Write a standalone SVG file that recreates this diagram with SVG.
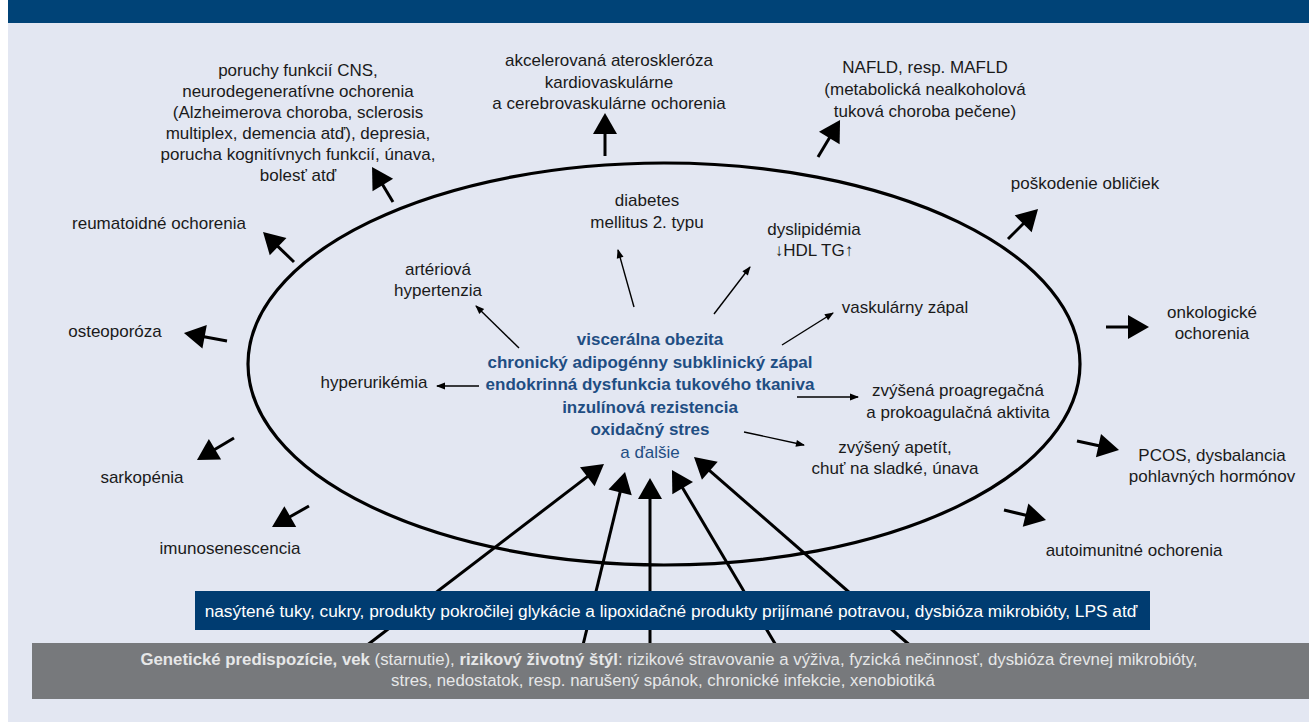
<svg xmlns="http://www.w3.org/2000/svg" width="1309" height="722" viewBox="0 0 1309 722">
<style>
text{font-family:"Liberation Sans",Arial,sans-serif;font-size:17px;fill:#1a1a1a;text-anchor:middle}
.c{fill:#1f4e83;font-weight:bold}
.cr{fill:#1f4e83}
.w{fill:#ffffff;font-size:17.3px}
.g{fill:#e6e7e8;font-size:16.8px}
.b{font-weight:bold}
.thick{stroke:#000;stroke-width:3;fill:none;marker-end:url(#hb)}
.thin{stroke:#000;stroke-width:1.4;fill:none;marker-end:url(#hs)}
</style>
<defs>
<marker id="hb" markerUnits="userSpaceOnUse" markerWidth="24" markerHeight="26" refX="17" refY="12" orient="auto" overflow="visible">
<path d="M0,0 L21,12 L0,24 z" fill="#000"/>
</marker>
<marker id="hs" markerUnits="userSpaceOnUse" markerWidth="10" markerHeight="8" refX="8" refY="3.5" orient="auto" overflow="visible">
<path d="M0,0 L9,3.5 L0,7 z" fill="#000"/>
</marker>
</defs>
<rect x="0" y="0" width="1309" height="722" fill="#ffffff"/>
<rect x="8" y="0" width="1301" height="722" fill="#e3e7f2"/>
<rect x="8" y="0" width="1301" height="23" fill="#004377"/>
<ellipse cx="664" cy="364" rx="416" ry="201" fill="none" stroke="#000" stroke-width="3.2"/>
<g id="connectors">
<line class="thick" x1="393" y1="202" x2="374.1" y2="170.4"/>
<line class="thick" x1="294" y1="262" x2="265.9" y2="234.8"/>
<line class="thick" x1="605" y1="156" x2="605" y2="117"/>
<line class="thick" x1="818" y1="157" x2="838" y2="123.4"/>
<line class="thick" x1="1008" y1="239" x2="1035.2" y2="211.8"/>
<line class="thick" x1="1106" y1="327" x2="1145" y2="327"/>
<line class="thick" x1="1077" y1="441" x2="1115.1" y2="449.2"/>
<line class="thick" x1="1004" y1="510" x2="1042.1" y2="519.1"/>
<line class="thick" x1="227" y1="341" x2="187.9" y2="333.7"/>
<line class="thick" x1="234" y1="438" x2="200.4" y2="458"/>
<line class="thick" x1="309" y1="506" x2="275.5" y2="525"/>
<line class="thick" x1="366" y1="646" x2="600.8" y2="466.4"/>
<line class="thick" x1="583" y1="645" x2="624.1" y2="475.9"/>
<line class="thick" x1="650" y1="645" x2="650" y2="482"/>
<line class="thick" x1="777" y1="647" x2="674" y2="473.4"/>
<line class="thick" x1="913" y1="648" x2="697" y2="459.6"/>
<line class="thin" x1="519" y1="348" x2="476" y2="306"/>
<line class="thin" x1="634" y1="307" x2="618" y2="250"/>
<line class="thin" x1="714" y1="314" x2="750" y2="267"/>
<line class="thin" x1="782" y1="345" x2="833" y2="313"/>
<line class="thin" x1="479" y1="386" x2="437" y2="386"/>
<line class="thin" x1="797" y1="397" x2="858" y2="397"/>
<line class="thin" x1="744" y1="432" x2="804" y2="445"/>
</g>
<g id="center">
<text x="650" y="345" class="c">viscerálna obezita</text>
<text x="650" y="368" class="c">chronický adipogénny subklinický zápal</text>
<text x="650" y="390" class="c">endokrinná dysfunkcia tukového tkaniva</text>
<text x="650" y="413" class="c">inzulínová rezistencia</text>
<text x="650" y="435" class="c">oxidačný stres</text>
<text x="650" y="458" class="cr">a ďalšie</text>
</g>
<g id="cns">
<text x="298" y="76">poruchy funkcií CNS,</text>
<text x="298" y="97">neurodegeneratívne ochorenia</text>
<text x="298" y="118">(Alzheimerova choroba, sclerosis</text>
<text x="298" y="139">multiplex, demencia atď), depresia,</text>
<text x="298" y="160">porucha kognitívnych funkcií, únava,</text>
<text x="298" y="181">bolesť atď</text>
</g>
<g id="reumatoidne"><text x="159" y="229">reumatoidné ochorenia</text></g>
<g id="akcelerovana">
<text x="609" y="66">akcelerovaná ateroskleróza</text>
<text x="609" y="87.5">kardiovaskulárne</text>
<text x="609" y="109">a cerebrovaskulárne ochorenia</text>
</g>
<g id="nafld">
<text x="925" y="73">NAFLD, resp. MAFLD</text>
<text x="925" y="95">(metabolická nealkoholová</text>
<text x="925" y="117">tuková choroba pečene)</text>
</g>
<g id="obliciek"><text x="1085" y="189">poškodenie obličiek</text></g>
<g id="onkologicke">
<text x="1212" y="318">onkologické</text>
<text x="1212" y="339">ochorenia</text>
</g>
<g id="pcos">
<text x="1212" y="461">PCOS, dysbalancia</text>
<text x="1212" y="482">pohlavných hormónov</text>
</g>
<g id="autoimunitne"><text x="1134" y="556">autoimunitné ochorenia</text></g>
<g id="osteoporoza"><text x="115" y="337">osteoporóza</text></g>
<g id="sarkopenia"><text x="142" y="483">sarkopénia</text></g>
<g id="imunosenescencia"><text x="230" y="554">imunosenescencia</text></g>
<g id="arteriova">
<text x="438" y="275">artériová</text>
<text x="438" y="296">hypertenzia</text>
</g>
<g id="diabetes">
<text x="647" y="206">diabetes</text>
<text x="647" y="228">mellitus 2. typu</text>
</g>
<g id="dyslipidemia">
<text x="814" y="235">dyslipidémia</text>
<text x="814" y="256">↓HDL TG↑</text>
</g>
<g id="vaskularny"><text x="905" y="313">vaskulárny zápal</text></g>
<g id="hyperurikemia"><text x="374" y="388">hyperurikémia</text></g>
<g id="proagregacna">
<text x="958" y="396">zvýšená proagregačná</text>
<text x="958" y="418">a prokoagulačná aktivita</text>
</g>
<g id="apetit">
<text x="895" y="453">zvýšený apetít,</text>
<text x="895" y="474">chuť na sladké, únava</text>
</g>
<g id="diet">
<rect x="195" y="591" width="955" height="39" fill="#003c71"/>
<text x="671" y="617" class="w">nasýtené tuky, cukry, produkty pokročilej glykácie a lipoxidačné produkty prijímané potravou, dysbióza mikrobióty, LPS atď</text>
</g>
<g id="risk">
<rect x="32" y="643" width="1277" height="56" fill="#77797c"/>
<text x="669" y="665" class="g"><tspan class="b">Genetické predispozície, vek</tspan> (starnutie), <tspan class="b">rizikový životný štýl</tspan>: rizikové stravovanie a výživa, fyzická nečinnosť, dysbióza črevnej mikrobióty,</text>
<text x="663" y="686" class="g">stres, nedostatok, resp. narušený spánok, chronické infekcie, xenobiotiká</text>
</g>
</svg>
